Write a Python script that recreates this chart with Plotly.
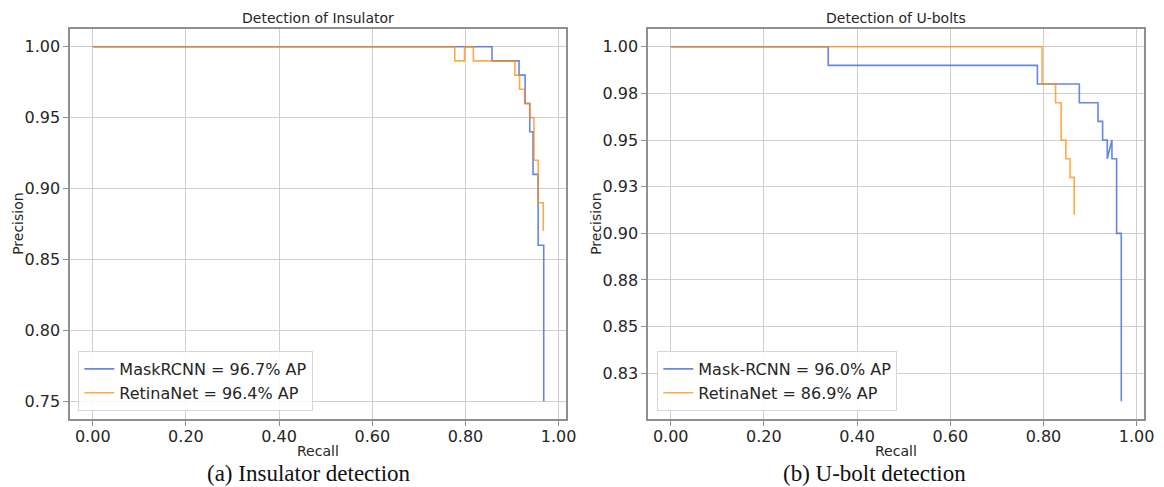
import plotly.graph_objects as go

# ---------------- data ----------------
# (a) Insulator detection: precision-recall curve vertices
ins_mask_recall = [0.0, 0.857, 0.857, 0.915, 0.915, 0.928, 0.928, 0.938, 0.938, 0.945, 0.945, 0.956, 0.956, 0.968, 0.968]
ins_mask_prec   = [1.0, 1.0,   0.99,  0.99,  0.98,  0.98,  0.96,  0.96,  0.94,  0.94,  0.91,  0.91,  0.86,  0.86,  0.75]
ins_retina_recall = [0.0, 0.777, 0.777, 0.798, 0.798, 0.817, 0.817, 0.906, 0.906, 0.916, 0.916, 0.927, 0.927, 0.938, 0.938, 0.947, 0.947, 0.956, 0.956, 0.967, 0.967]
ins_retina_prec   = [1.0, 1.0,   0.99,  0.99,  1.0,   1.0,   0.99,  0.99,  0.98,  0.98,  0.97,  0.97,  0.96,  0.96,  0.95,  0.95,  0.92,  0.92,  0.89,  0.89,  0.87]

# (b) U-bolt detection
ub_mask_recall = [0.0, 0.338, 0.338, 0.787, 0.787, 0.877, 0.877, 0.917, 0.917, 0.927, 0.927, 0.937, 0.937, 0.947, 0.947, 0.957, 0.957, 0.967, 0.967]
ub_mask_prec   = [1.0, 1.0,   0.99,  0.99,  0.98,  0.98,  0.97,  0.97,  0.96,  0.96,  0.95,  0.95,  0.94,  0.95,  0.94,  0.94,  0.90,  0.90,  0.81]
ub_retina_recall = [0.0, 0.797, 0.797, 0.826, 0.826, 0.838, 0.838, 0.848, 0.848, 0.857, 0.857, 0.866, 0.866]
ub_retina_prec   = [1.0, 1.0,   0.98,  0.98,  0.97,  0.97,  0.95,  0.95,  0.94,  0.94,  0.93,  0.93,  0.91]

names_a = ["MaskRCNN = 96.7% AP", "RetinaNet = 96.4% AP"]
names_b = ["Mask-RCNN = 96.0% AP", "RetinaNet = 86.9% AP"]
titles = ["Detection of Insulator", "Detection of U-bolts"]
captions = ["(a) Insulator detection", "(b) U-bolt detection"]

x_tickvals = [0.0, 0.2, 0.4, 0.6, 0.8, 1.0]
x_ticktext = ["0.00", "0.20", "0.40", "0.60", "0.80", "1.00"]
ya_tickvals = [0.75, 0.80, 0.85, 0.90, 0.95, 1.00]
ya_ticktext = ["0.75", "0.80", "0.85", "0.90", "0.95", "1.00"]
yb_tickvals = [0.825, 0.85, 0.875, 0.90, 0.925, 0.95, 0.975, 1.00]
yb_ticktext = ["0.83", "0.85", "0.88", "0.90", "0.93", "0.95", "0.98", "1.00"]

# ---------------- styling ----------------
W, H = 1164, 487
BLUE = "#4169E1"
ORANGE = "#FF8C00"
FRAME = "#8f8f8f"
GRID = "#cfcfcf"
TXT = "#262626"
SANS = "DejaVu Sans"

def px_x(p):
    return p / W

def px_y(p):
    return 1 - p / H

fig = go.Figure()

fig.add_trace(go.Scatter(x=ins_mask_recall, y=ins_mask_prec, mode="lines", name=names_a[0],
                         line=dict(color=BLUE, width=1.6), opacity=0.8,
                         xaxis="x", yaxis="y", legend="legend"))
fig.add_trace(go.Scatter(x=ins_retina_recall, y=ins_retina_prec, mode="lines", name=names_a[1],
                         line=dict(color=ORANGE, width=1.6), opacity=0.72,
                         xaxis="x", yaxis="y", legend="legend"))
fig.add_trace(go.Scatter(x=ub_mask_recall, y=ub_mask_prec, mode="lines", name=names_b[0],
                         line=dict(color=BLUE, width=1.6), opacity=0.8,
                         xaxis="x2", yaxis="y2", legend="legend2"))
fig.add_trace(go.Scatter(x=ub_retina_recall, y=ub_retina_prec, mode="lines", name=names_b[1],
                         line=dict(color=ORANGE, width=1.6), opacity=0.72,
                         xaxis="x2", yaxis="y2", legend="legend2"))

ydom = [px_y(419), px_y(29)]
common = dict(showline=True, linecolor=FRAME, linewidth=2, mirror=True,
              showgrid=True, gridcolor=GRID, gridwidth=1, zeroline=False,
              ticks="outside", ticklen=5, tickwidth=1.2, tickcolor=FRAME,
              tickfont=dict(family=SANS, size=16, color=TXT))

fig.update_layout(
    width=W, height=H, autosize=False,
    margin=dict(l=0, r=0, t=0, b=0),
    paper_bgcolor="white", plot_bgcolor="white",
    xaxis=dict(domain=[px_x(71), px_x(571)], range=[-0.048, 1.016], anchor="y",
               tickvals=x_tickvals, ticktext=x_ticktext, ticklabelstandoff=-3, **common),
    yaxis=dict(domain=ydom, range=[0.7375, 1.0125], anchor="x",
               tickvals=ya_tickvals, ticktext=ya_ticktext, **common),
    xaxis2=dict(domain=[px_x(654), px_x(1154)], range=[-0.048, 1.016], anchor="y2",
                tickvals=x_tickvals, ticktext=x_ticktext, ticklabelstandoff=-3, **common),
    yaxis2=dict(domain=ydom, range=[0.8005, 1.0095], anchor="x2",
                tickvals=yb_tickvals, ticktext=yb_ticktext, **common),
    legend=dict(x=px_x(79), y=px_y(411), xanchor="left", yanchor="bottom",
                bgcolor="rgba(255,255,255,0.85)", bordercolor="#d6d6d6", borderwidth=1,
                font=dict(family=SANS, size=16, color=TXT), tracegroupgap=0,
                itemwidth=30),
    legend2=dict(x=px_x(663), y=px_y(411), xanchor="left", yanchor="bottom",
                 bgcolor="rgba(255,255,255,0.85)", bordercolor="#d6d6d6", borderwidth=1,
                 font=dict(family=SANS, size=16, color=TXT), tracegroupgap=0,
                 itemwidth=30),
    showlegend=True,
)

annotations = []
centers = [(71 + 571) / 2, (654 + 1154) / 2]
for i, cx in enumerate(centers):
    annotations.append(dict(text=titles[i], x=px_x(cx), y=px_y(18), xref="paper", yref="paper",
                            xanchor="center", yanchor="middle", showarrow=False,
                            font=dict(family=SANS, size=14, color=TXT)))
    annotations.append(dict(text="Recall", x=px_x(cx), y=px_y(451), xref="paper", yref="paper",
                            xanchor="center", yanchor="middle", showarrow=False,
                            font=dict(family=SANS, size=14, color=TXT)))
for lx in [18, 601]:
    annotations.append(dict(text="Precision", x=px_x(lx), y=px_y(224), xref="paper", yref="paper",
                            xanchor="center", yanchor="middle", showarrow=False, textangle=-90,
                            font=dict(family=SANS, size=14, color=TXT)))
cap_x = [312, 882]
for i, cx in enumerate(cap_x):
    annotations.append(dict(text=captions[i], x=px_x(cx), y=px_y(487), xref="paper", yref="paper",
                            xanchor="center", yanchor="bottom", showarrow=False, borderpad=0,
                            font=dict(family="Liberation Serif", size=23, color="#111111")))
fig.update_layout(annotations=annotations)

fig.write_html("out.html")
